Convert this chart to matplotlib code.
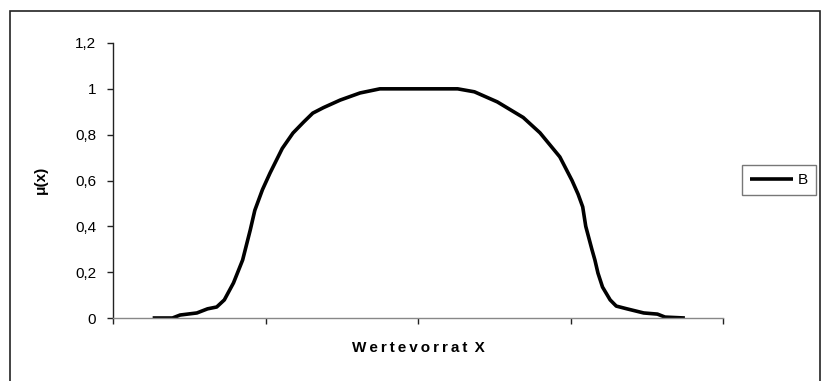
import matplotlib

matplotlib.use("Agg")
import matplotlib.pyplot as plt
from matplotlib.patches import Rectangle
from matplotlib.ticker import FuncFormatter

plt.rcParams["font.family"] = ["Liberation Sans", "DejaVu Sans"]

# membership function B over the value range X
x_vals = [0.26, 0.39, 0.44, 0.55, 0.62, 0.68, 0.73, 0.79, 0.85, 0.90,
          0.93, 0.98, 1.03, 1.11, 1.18, 1.25, 1.31, 1.38, 1.49, 1.62, 1.75,
          2.26, 2.37, 2.52, 2.69, 2.80, 2.93, 3.01, 3.05, 3.08, 3.10,
          3.14, 3.16, 3.18, 3.21, 3.26, 3.30, 3.37, 3.48, 3.57, 3.62, 3.75]
mu_vals = [0.0, 0.0, 0.013, 0.022, 0.040, 0.048, 0.079, 0.153, 0.253, 0.384,
           0.47, 0.56, 0.633, 0.74, 0.807, 0.855, 0.894, 0.918, 0.951, 0.982, 1.0,
           1.0, 0.987, 0.943, 0.875, 0.808, 0.703, 0.60, 0.54, 0.485, 0.40,
           0.30, 0.253, 0.196, 0.135, 0.079, 0.052, 0.040, 0.022, 0.017, 0.004, 0.0]
series_name = "B"
y_ticks = [0, 0.2, 0.4, 0.6, 0.8, 1.0, 1.2]
x_ticks = [0, 1, 2, 3, 4]

W, H = 824, 381
fig = plt.figure(figsize=(W / 100, H / 100), dpi=100)
ax = fig.add_axes([113 / W, 1 - 318 / H, (723 - 113) / W, (318 - 43) / H])

line, = ax.plot(x_vals, mu_vals, color="black", lw=2.6, solid_joinstyle="round",
                solid_capstyle="butt", label=series_name)

ax.set_xlim(0, 4)
ax.set_ylim(0, 1.2)
ax.set_yticks(y_ticks)
ax.set_xticks(x_ticks)
ax.set_xticklabels([])
ax.yaxis.set_major_formatter(FuncFormatter(lambda v, p: f"{v:g}".replace(".", ",")))

for side in ("top", "right"):
    ax.spines[side].set_visible(False)
ax.spines["left"].set_color("#222222")
ax.spines["bottom"].set_color("#888888")
for s in ("left", "bottom"):
    ax.spines[s].set_linewidth(1.0)
ax.tick_params(axis="y", direction="out", length=4, width=1, color="#222222",
               labelsize=11, pad=8)
ax.tick_params(axis="x", direction="out", length=4, width=1, color="#222222")

ax.set_ylabel("μ(x)", fontsize=11, fontweight="bold")
ax.yaxis.set_label_coords(-(113 - 48) / (723 - 113), (318 - 180) / (318 - 43))

ax.text(0.5, -(348 - 318) / (318 - 43),
        "W\u2009e\u2009r\u2009t\u2009e\u2009v\u2009o\u2009r\u2009r\u2009a\u2009t\u2009 X",
        transform=ax.transAxes, ha="center", va="center",
        fontsize=11, fontweight="bold")

leg = fig.legend(handles=[line], loc="center left",
                 bbox_to_anchor=(742 / W, 1 - 180 / H), fontsize=11,
                 frameon=True, fancybox=False, handlelength=2.8,
                 handletextpad=0.3, borderpad=0.55, borderaxespad=0)
leg.get_frame().set_edgecolor("#555555")
leg.get_frame().set_linewidth(1.0)

# chart border, bottom edge runs off the image
fig.patches.append(Rectangle((10 / W, -0.05), (820 - 10) / W, 1 - 11 / H + 0.05,
                             transform=fig.transFigure, fill=False,
                             edgecolor="#222222", linewidth=1.2))

fig.savefig("out.png", dpi=100)
